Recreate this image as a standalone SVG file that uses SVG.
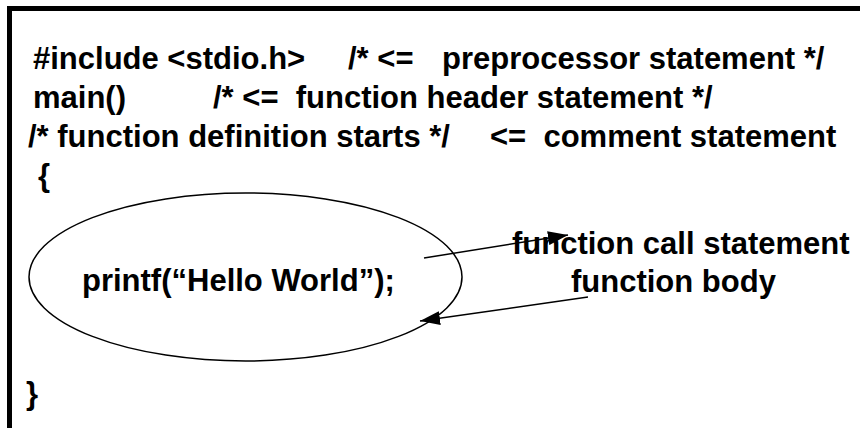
<svg xmlns="http://www.w3.org/2000/svg" width="860" height="428" viewBox="0 0 860 428">
  <defs>
    <style>
      .t { font-family: "Liberation Sans", Arial, sans-serif; font-weight: bold; font-size: 31px; fill: #000; white-space: pre; }
      .frame { stroke: #000; stroke-width: 5; fill: none; }
      .conn { stroke: #000; stroke-width: 1.5; fill: none; }
    </style>
    <marker id="ah" viewBox="0 0 20 14" refX="20" refY="7" markerWidth="20" markerHeight="14" markerUnits="userSpaceOnUse" orient="auto">
      <path d="M0,0 L20,7 L0,14 Z" fill="#000"/>
    </marker>
  </defs>
  <rect width="860" height="428" fill="#fff"/>
  <path class="frame" d="M9.5,428 V8.5 H860"/>

  <g id="code">
    <text class="t" x="33" y="69">#include &lt;stdio.h&gt;</text>
    <text class="t" x="348" y="69">/* &lt;=</text>
    <text class="t" x="442" y="69">preprocessor statement */</text>
    <text class="t" x="33" y="108">main()</text>
    <text class="t" x="213" y="108">/* &lt;=  function header statement */</text>
    <text class="t" x="28" y="147">/* function definition starts */</text>
    <text class="t" x="490" y="147">&lt;=  comment statement</text>
    <text class="t" x="38" y="186">{</text>
    <text class="t" x="26" y="404">}</text>
  </g>

  <g id="function-body">
    <ellipse cx="245.5" cy="277" rx="216.5" ry="84" fill="none" stroke="#000" stroke-width="1.5"/>
    <text class="t" x="82" y="291">printf(“Hello World”);</text>
  </g>

  <g id="label-call">
    <text class="t" x="512" y="254">function call statement</text>
  </g>
  <g id="label-body">
    <text class="t" x="571" y="292">function body</text>
  </g>

  <g id="connectors">
    <line class="conn" x1="424" y1="258" x2="568" y2="235" marker-end="url(#ah)"/>
    <line class="conn" x1="588" y1="297" x2="420" y2="321" marker-end="url(#ah)"/>
  </g>
</svg>
